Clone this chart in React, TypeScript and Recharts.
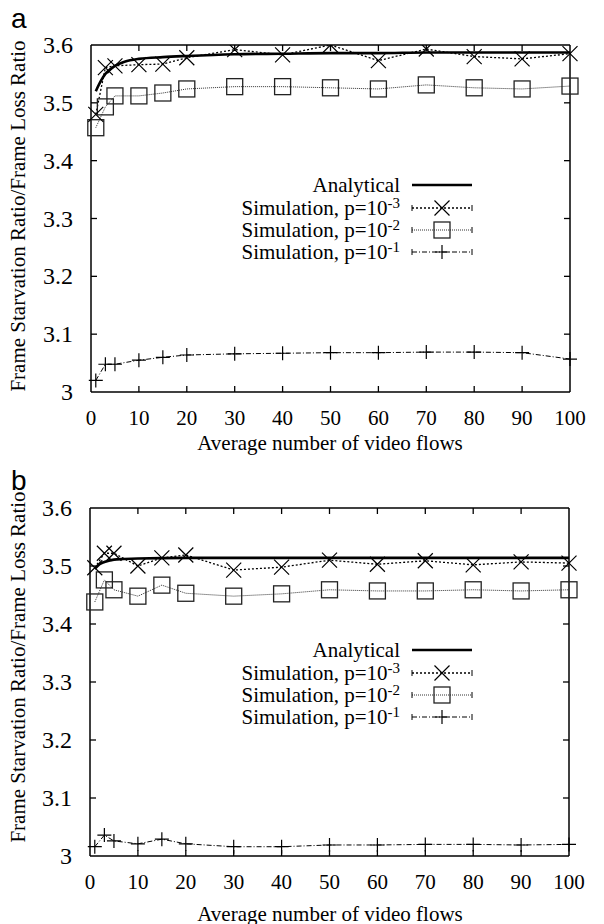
import { LineChart, Line, XAxis, YAxis, ReferenceLine } from 'recharts';

// x positions of the simulated points (average number of video flows)
const simFlows = [1, 3, 5, 10, 15, 20, 30, 40, 50, 60, 70, 80, 90, 100];
const xTicks = [0, 10, 20, 30, 40, 50, 60, 70, 80, 90, 100];
const yTicks = [3, 3.1, 3.2, 3.3, 3.4, 3.5, 3.6];

// panel a
const analyticFlowsA = [1, 2, 3, 4, 5, 7, 10, 15, 20, 30, 40, 50, 60, 70, 80, 90, 100];
const analyticA = [3.52, 3.537, 3.55, 3.558, 3.564, 3.571, 3.576, 3.579, 3.581, 3.584, 3.585, 3.586, 3.586, 3.587, 3.587, 3.587, 3.587];
const simA_p3 = [3.48, 3.561, 3.564, 3.566, 3.567, 3.578, 3.592, 3.583, 3.6, 3.573, 3.593, 3.58, 3.576, 3.585];
const simA_p2 = [3.457, 3.493, 3.512, 3.512, 3.517, 3.524, 3.528, 3.528, 3.526, 3.524, 3.531, 3.526, 3.524, 3.529];
const simA_p1 = [3.02, 3.048, 3.048, 3.055, 3.06, 3.064, 3.066, 3.067, 3.068, 3.068, 3.069, 3.069, 3.068, 3.057];

// panel b
const analyticFlowsB = [1, 2, 3, 5, 7, 10, 20, 30, 40, 50, 60, 70, 80, 90, 100];
const analyticB = [3.495, 3.503, 3.507, 3.511, 3.512, 3.513, 3.514, 3.514, 3.514, 3.514, 3.514, 3.514, 3.514, 3.514, 3.514];
const simB_p3 = [3.497, 3.522, 3.522, 3.5, 3.514, 3.519, 3.493, 3.498, 3.51, 3.503, 3.509, 3.502, 3.507, 3.505];
const simB_p2 = [3.438, 3.476, 3.459, 3.448, 3.467, 3.453, 3.448, 3.452, 3.459, 3.457, 3.457, 3.459, 3.457, 3.459];
const simB_p1 = [3.016, 3.036, 3.026, 3.021, 3.029, 3.021, 3.016, 3.016, 3.019, 3.019, 3.02, 3.02, 3.019, 3.02];

const X_DOMAIN: [number, number] = [0, 100];
const Y_DOMAIN: [number, number] = [3, 3.6];

const serif = 'Liberation Serif, Times New Roman, serif';
const sans = 'Liberation Sans, Arial, sans-serif';

const toPoints = (xs: number[], ys: number[]) => xs.map((x, i) => ({ x, y: ys[i] }));

const crossDot = (props: any) => {
  const { cx, cy, index } = props;
  if (cx == null || cy == null) return <g key={index} />;
  const r = 7.5;
  return (
    <path
      key={index}
      d={`M${cx - r},${cy - r}L${cx + r},${cy + r}M${cx - r},${cy + r}L${cx + r},${cy - r}`}
      stroke="#000"
      strokeWidth={1.2}
      fill="none"
    />
  );
};

const squareDot = (props: any) => {
  const { cx, cy, index } = props;
  if (cx == null || cy == null) return <g key={index} />;
  return <rect key={index} x={cx - 8} y={cy - 8} width={16} height={16} stroke="#222" strokeWidth={1.3} fill="none" />;
};

const plusDot = (props: any) => {
  const { cx, cy, index } = props;
  if (cx == null || cy == null) return <g key={index} />;
  const r = 7;
  return (
    <path key={index} d={`M${cx - r},${cy}L${cx + r},${cy}M${cx},${cy - r}L${cx},${cy + r}`} stroke="#000" strokeWidth={1.2} fill="none" />
  );
};

// tick labels drawn by hand so the serif face and size stick
const XTick = ({ x, y, payload }: any) => (
  <text x={x} y={y} dy={15} textAnchor="middle" fill="#000" fontSize={21} fontFamily={serif}>
    {payload.value}
  </text>
);

const YTick = ({ x, y, payload }: any) => (
  <text x={x} y={y} dy={8} textAnchor="end" fill="#000" fontSize={24} fontFamily={serif}>
    {payload.value === 3 ? '3' : Number(payload.value).toFixed(1)}
  </text>
);

const frameLine = { stroke: '#000', strokeWidth: 1.5 };

const legendRows = [
  { key: 'an', text: 'Analytical', exp: '' },
  { key: 'p3', text: 'Simulation, p=10', exp: '-3' },
  { key: 'p2', text: 'Simulation, p=10', exp: '-2' },
  { key: 'p1', text: 'Simulation, p=10', exp: '-1' },
];

const LegendSample = ({ kind }: { kind: string }) => {
  const ends = kind !== 'an';
  return (
    <svg width={64} height={24} style={{ position: 'absolute', left: 410, top: 0 }}>
      {kind === 'an' && <line x1={2} y1={12} x2={62} y2={12} stroke="#000" strokeWidth={2.5} />}
      {kind === 'p3' && <line x1={2} y1={12} x2={62} y2={12} stroke="#000" strokeWidth={1.3} strokeDasharray="2 2" />}
      {kind === 'p2' && <line x1={2} y1={12} x2={62} y2={12} stroke="#333" strokeWidth={1} strokeDasharray="1 1" />}
      {kind === 'p1' && <line x1={2} y1={12} x2={62} y2={12} stroke="#000" strokeWidth={1} strokeDasharray="5 2 1 2" />}
      {ends && <path d="M2,9L2,15M62,9L62,15" stroke="#000" strokeWidth={1} />}
      {kind === 'p3' && crossDot({ cx: 32, cy: 12, index: 'm' })}
      {kind === 'p2' && squareDot({ cx: 32, cy: 12, index: 'm' })}
      {kind === 'p1' && plusDot({ cx: 32, cy: 12, index: 'm' })}
    </svg>
  );
};

const ChartLegend = ({ rows }: { rows: number[] }) => (
  <>
    {legendRows.map((r, i) => (
      <div key={r.key} style={{ position: 'absolute', left: 0, top: rows[i] - 12, width: 604, height: 24 }}>
        <div
          style={{
            position: 'absolute',
            left: 150,
            width: 250,
            textAlign: 'right',
            fontFamily: serif,
            fontSize: 21,
            lineHeight: '24px',
            whiteSpace: 'nowrap',
          }}
        >
          {r.text}
          {r.exp && <span style={{ fontSize: 15, position: 'relative', top: -7 }}>{r.exp}</span>}
        </div>
        <LegendSample kind={r.key} />
      </div>
    ))}
  </>
);

interface PanelProps {
  letter: string;
  top: number;
  margin: { top: number; right: number; bottom: number; left: number };
  yWidth: number;
  analytic: { x: number; y: number }[];
  p3: { x: number; y: number }[];
  p2: { x: number; y: number }[];
  p1: { x: number; y: number }[];
  legendRows: number[];
  yTitleCenter: number;
  xTitleCenter: number;
}

const CHART_W = 604;
const CHART_H = 462;
const X_AXIS_H = 40;
const TICK_PX = 6;

const Panel = ({ letter, top, margin, yWidth, analytic, p3, p2, p1, legendRows: rows, yTitleCenter, xTitleCenter }: PanelProps) => {
  // inward tick length, converted from pixels to axis units of this plot
  const plotW = CHART_W - margin.left - margin.right - yWidth - 1;
  const plotH = CHART_H - margin.top - margin.bottom - X_AXIS_H - 1;
  const dx = ((X_DOMAIN[1] - X_DOMAIN[0]) * TICK_PX) / plotW;
  const dy = ((Y_DOMAIN[1] - Y_DOMAIN[0]) * TICK_PX) / plotH;
  const tickSegs: { key: string; seg: { x: number; y: number }[] }[] = [];
  xTicks.slice(1, -1).forEach((t) => {
    tickSegs.push({ key: `b${t}`, seg: [{ x: t, y: Y_DOMAIN[0] }, { x: t, y: Y_DOMAIN[0] + dy }] });
    tickSegs.push({ key: `t${t}`, seg: [{ x: t, y: Y_DOMAIN[1] }, { x: t, y: Y_DOMAIN[1] - dy }] });
  });
  yTicks.slice(1, -1).forEach((t) => {
    tickSegs.push({ key: `l${t}`, seg: [{ x: X_DOMAIN[0], y: t }, { x: X_DOMAIN[0] + dx, y: t }] });
    tickSegs.push({ key: `r${t}`, seg: [{ x: X_DOMAIN[1], y: t }, { x: X_DOMAIN[1] - dx, y: t }] });
  });

  return (
    <>
      <div style={{ position: 'absolute', left: 11, top: top + 5, fontFamily: sans, fontSize: 28, lineHeight: '28px' }}>{letter}</div>
      <div style={{ position: 'absolute', left: 0, top, fontFamily: serif }}>
        <LineChart width={CHART_W} height={CHART_H} margin={margin}>
          <XAxis
            dataKey="x"
            type="number"
            domain={X_DOMAIN}
            ticks={xTicks}
            interval={0}
            height={X_AXIS_H}
            tickSize={0}
            tickMargin={18}
            tick={XTick}
            stroke="#000"
            axisLine={frameLine}
            tickLine={false}
          />
          <XAxis xAxisId="top" orientation="top" dataKey="x" type="number" domain={X_DOMAIN} height={1} tick={false} tickLine={false} stroke="#000" axisLine={frameLine} />
          <YAxis
            type="number"
            domain={Y_DOMAIN}
            ticks={yTicks}
            interval={0}
            width={yWidth}
            tickSize={0}
            tickMargin={18}
            tick={YTick}
            stroke="#000"
            axisLine={frameLine}
            tickLine={false}
            allowDataOverflow
          />
          <YAxis yAxisId="right" orientation="right" type="number" domain={Y_DOMAIN} width={1} tick={false} tickLine={false} stroke="#000" axisLine={frameLine} />
          {tickSegs.map((s) => (
            <ReferenceLine key={s.key} segment={s.seg} stroke="#000" strokeWidth={1.3} ifOverflow="visible" />
          ))}
          <Line data={p1} dataKey="y" type="linear" stroke="#000" strokeWidth={1} strokeDasharray="5 2 1 2" dot={plusDot} isAnimationActive={false} />
          <Line data={p2} dataKey="y" type="linear" stroke="#333" strokeWidth={1} strokeDasharray="1 1" dot={squareDot} isAnimationActive={false} />
          <Line data={p3} dataKey="y" type="linear" stroke="#000" strokeWidth={1.3} strokeDasharray="2 2" dot={crossDot} isAnimationActive={false} />
          <Line data={analytic} dataKey="y" type="monotone" stroke="#000" strokeWidth={2.6} dot={false} isAnimationActive={false} />
        </LineChart>
      </div>
      <ChartLegend rows={rows} />
      <div
        style={{
          position: 'absolute',
          left: 18 - 220,
          top: yTitleCenter - 12,
          width: 440,
          height: 24,
          lineHeight: '24px',
          textAlign: 'center',
          fontFamily: serif,
          fontSize: 21,
          transform: 'rotate(-90deg)',
          whiteSpace: 'nowrap',
        }}
      >
        Frame Starvation Ratio/Frame Loss Ratio
      </div>
      <div
        style={{
          position: 'absolute',
          left: 130,
          top: xTitleCenter - 12,
          width: 400,
          lineHeight: '24px',
          textAlign: 'center',
          fontFamily: serif,
          fontSize: 21,
        }}
      >
        Average number of video flows
      </div>
    </>
  );
};

export default function App() {
  return (
    <div style={{ position: 'absolute', left: 0, top: 0, width: 604, height: 924, background: '#fff', overflow: 'hidden' }}>
      <Panel
        letter="a"
        top={0}
        margin={{ top: 44, right: 33, bottom: 30, left: 0 }}
        yWidth={91}
        analytic={toPoints(analyticFlowsA, analyticA)}
        p3={toPoints(simFlows, simA_p3)}
        p2={toPoints(simFlows, simA_p2)}
        p1={toPoints(simFlows, simA_p1)}
        legendRows={[185, 208, 230, 252]}
        yTitleCenter={216}
        xTitleCenter={443}
      />
      <Panel
        letter="b"
        top={462}
        margin={{ top: 45, right: 34, bottom: 28, left: 0 }}
        yWidth={90}
        analytic={toPoints(analyticFlowsB, analyticB)}
        p3={toPoints(simFlows, simB_p3)}
        p2={toPoints(simFlows, simB_p2)}
        p1={toPoints(simFlows, simB_p1)}
        legendRows={[650, 673, 695, 717]}
        yTitleCenter={667}
        xTitleCenter={914}
      />
    </div>
  );
}
